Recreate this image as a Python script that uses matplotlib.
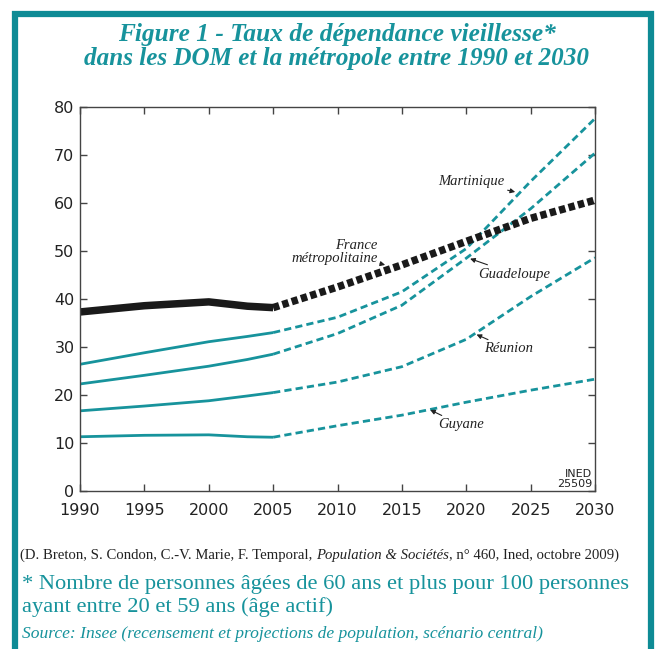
import matplotlib
matplotlib.use("Agg")
import matplotlib.pyplot as plt
from matplotlib.patches import Rectangle

# ---- data ----
years_hist = [1990, 1995, 2000, 2003, 2005]
years_proj = [2005, 2010, 2015, 2020, 2025, 2030]

france_hist = [37.3, 38.6, 39.4, 38.5, 38.2]
france_proj = [38.2, 42.5, 47.1, 52.0, 56.8, 60.6]
martinique_hist = [26.4, 28.8, 31.1, 32.2, 33.0]
martinique_proj = [33.0, 36.2, 41.5, 50.5, 64.5, 77.6]
guadeloupe_hist = [22.3, 24.1, 26.0, 27.4, 28.5]
guadeloupe_proj = [28.5, 32.8, 38.7, 48.5, 58.8, 70.4]
reunion_hist = [16.7, 17.7, 18.8, 19.8, 20.5]
reunion_proj = [20.5, 22.7, 25.9, 31.6, 40.5, 48.6]
guyane_hist = [11.3, 11.6, 11.7, 11.3, 11.2]
guyane_proj = [11.2, 13.6, 15.8, 18.5, 21.0, 23.3]

x_ticks = [1990, 1995, 2000, 2005, 2010, 2015, 2020, 2025, 2030]
y_ticks = [0, 10, 20, 30, 40, 50, 60, 70, 80]

TEAL = '#17939c'
BORDER = '#0e8b95'
DARK = '#222222'

W, H = 658, 649
fig = plt.figure(figsize=(W / 100, H / 100), dpi=100)
ax = fig.add_axes([80 / W, 1 - 491 / H, 515 / W, 384 / H])

teal_series = [(martinique_hist, martinique_proj), (guadeloupe_hist, guadeloupe_proj),
               (reunion_hist, reunion_proj), (guyane_hist, guyane_proj)]
for hist, proj in teal_series:
    ax.plot(years_hist, hist, color=TEAL, lw=2.0, solid_capstyle='butt')
    ax.plot(years_proj, proj, color=TEAL, lw=2.0, dashes=(2.6, 1.5))
ax.plot(years_hist, france_hist, color='#1a1a1a', lw=5.4, solid_capstyle='butt')
ax.plot(years_proj, france_proj, color='#1a1a1a', lw=5.4, dashes=(0.85, 0.45))

ax.set_xlim(1990, 2030)
ax.set_ylim(0, 80)
ax.set_xticks(x_ticks)
ax.set_yticks(y_ticks)
for s in ax.spines.values():
    s.set_color('#444444')
    s.set_linewidth(1.0)
ax.tick_params(axis='both', direction='in', length=5, width=1, color='#444444',
               labelsize=11.5, labelcolor='#222222', top=True, right=True)
ax.tick_params(axis='x', pad=8.5)
ax.tick_params(axis='y', pad=4)

ann_kw = dict(fontsize=10.5, family='Liberation Serif', style='italic', color=DARK,
              arrowprops=dict(arrowstyle='-|>', color=DARK, lw=0.8,
                              mutation_scale=7, shrinkA=0, shrinkB=0))
ax.annotate('Martinique', xy=(2023.8, 62.3), xytext=(2023.0, 64.4),
            ha='right', va='center', **ann_kw)
ax.annotate('France\nmétropolitaine', xy=(2013.7, 47.1), xytext=(2013.1, 49.8),
            ha='right', va='center', multialignment='right', linespacing=0.95, **ann_kw)
ax.annotate('Guadeloupe', xy=(2020.3, 48.4), xytext=(2020.9, 45.2),
            ha='left', va='center', **ann_kw)
ax.annotate('Réunion', xy=(2020.8, 32.6), xytext=(2021.4, 29.6),
            ha='left', va='center', **ann_kw)
ax.annotate('Guyane', xy=(2017.2, 16.9), xytext=(2017.8, 13.8),
            ha='left', va='center', **ann_kw)

ax.text(0.994, 0.006, 'INED\n25509', transform=ax.transAxes, ha='right', va='bottom',
        fontsize=8, family='DejaVu Sans Condensed',
        color='#222222', linespacing=0.95, multialignment='right')

# border
fig.patches.append(Rectangle((15 / W, -0.05), (650.5 - 15) / W, 1 - 14 / H + 0.05,
                             transform=fig.transFigure, fill=False, ec=BORDER, lw=4.5))

# title
fig.text(337 / W, 1 - 35 / H, 'Figure 1 - Taux de dépendance vieillesse*',
         ha='center', va='center', fontsize=18.3, family='Liberation Serif',
         style='italic', weight='bold', color=TEAL)
fig.text(337 / W, 1 - 58 / H, 'dans les DOM et la métropole entre 1990 et 2030',
         ha='center', va='center', fontsize=18.1, family='Liberation Serif',
         style='italic', weight='bold', color=TEAL)

# citation with mixed styles
fig.canvas.draw()
renderer = fig.canvas.get_renderer()
pieces = [('(D. Breton, S. Condon, C.-V. Marie, F. Temporal, ', 'normal'),
          ('Population & Sociétés', 'italic'),
          (', n° 460, Ined, octobre 2009)', 'normal')]
xpos = 20 / W
for txt, st in pieces:
    t = fig.text(xpos, 1 - 555 / H, txt, ha='left', va='center', fontsize=10.65,
                 family='Liberation Serif', style=st, color='#222222')
    bb = t.get_window_extent(renderer=renderer)
    xpos += bb.width / W

fig.text(22 / W, 1 - 585 / H, '* Nombre de personnes âgées de 60 ans et plus pour 100 personnes',
         ha='left', va='center', fontsize=16.2, family='Liberation Serif', color=TEAL)
fig.text(22 / W, 1 - 607 / H, 'ayant entre 20 et 59 ans (âge actif)',
         ha='left', va='center', fontsize=16.2, family='Liberation Serif', color=TEAL)
fig.text(22 / W, 1 - 634 / H,
         'Source: Insee (recensement et projections de population, scénario central)',
         ha='left', va='center', fontsize=12.6, family='Liberation Serif', style='italic',
         color=TEAL)

fig.savefig('out.png', dpi=100)
